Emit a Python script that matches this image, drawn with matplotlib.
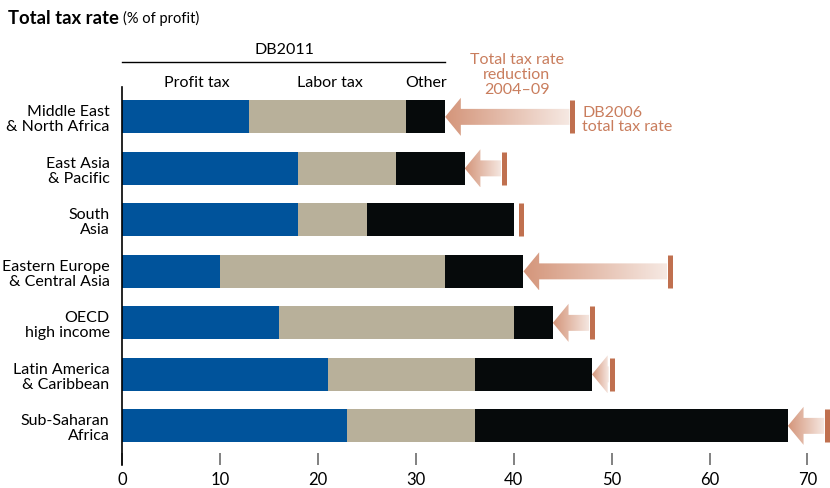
import numpy as np
import matplotlib
matplotlib.use("Agg")
import matplotlib.pyplot as plt
from matplotlib.patches import Polygon
from matplotlib.colors import to_rgba

plt.rcParams['font.family'] = ['Lato', 'DejaVu Sans']

# data (% of profit)
regions = ['Middle East\n& North Africa', 'East Asia\n& Pacific', 'South\nAsia',
           'Eastern Europe\n& Central Asia', 'OECD\nhigh income',
           'Latin America\n& Caribbean', 'Sub-Saharan\nAfrica']
profit_tax = [13, 18, 18, 10, 16, 21, 23]
labor_tax = [16, 10, 7, 23, 24, 15, 13]
other_tax = [4, 7, 15, 8, 4, 12, 32]
db2006_total = [46, 39, 40.7, 56, 48, 50, 72]
x_ticks = [0, 10, 20, 30, 40, 50, 60, 70]

blue = '#00539b'
tan = '#b8b09a'
black = '#060a0b'
rust = '#c0704f'
txt_rust = '#c97d5d'
head_col = '#d4957a'
tail_col = '#f6e9e3'
fs = 11.5

fig = plt.figure(figsize=(8.3, 4.89), dpi=100)
ax = fig.add_axes([122 / 830, 1 - 466 / 489, 1 - 122 / 830, (466 - 88) / 489])

y = np.arange(len(regions))
bh = 0.64
profit = np.array(profit_tax)
labor = np.array(labor_tax)
other = np.array(other_tax)
ax.barh(y, profit, height=bh, color=blue, zorder=2)
ax.barh(y, labor, left=profit, height=bh, color=tan, zorder=2)
ax.barh(y, other, left=profit + labor, height=bh, color=black, zorder=2)
totals = profit + labor + other

# gradient arrows from DB2006 rate down to DB2011 total
head_len = 1.6
head_h = 0.37
shaft_h = 0.155
c0 = np.array(to_rgba(head_col))
c1 = np.array(to_rgba(tail_col))
for yi, tot, old in zip(y, totals, db2006_total):
    tail = old - 0.3
    if tail - tot > head_len:
        hb = tot + head_len
        pts = [(tot, yi), (hb, yi - head_h), (hb, yi - shaft_h), (tail, yi - shaft_h),
               (tail, yi + shaft_h), (hb, yi + shaft_h), (hb, yi + head_h)]
        poly = Polygon(pts, closed=True, facecolor='none', edgecolor='none',
                       transform=ax.transData)
        ax.add_patch(poly)
        t = np.linspace(0, 1, 256)[None, :, None]
        grad = c0 * (1 - t) + c1 * t
        im = ax.imshow(grad, extent=(tot, tail, yi + head_h, yi - head_h),
                       aspect='auto', zorder=3, interpolation='bilinear')
        im.set_clip_path(poly)
    ax.vlines(old, yi - bh / 2, yi + bh / 2, color=rust, lw=3.6, zorder=4,
              clip_on=False)

ax.set_xlim(0, 72.3)
ax.set_ylim(6.76, -0.58)
ax.set_yticks(y)
ax.set_yticklabels(regions, fontsize=fs, linespacing=1.1)
ax.tick_params(axis='y', length=0, pad=9)
ax.set_xticks(x_ticks)
ax.set_xticklabels([str(v) for v in x_ticks], fontsize=12)
ax.tick_params(axis='x', direction='in', length=9, width=1.3, color='#777777', pad=4)
for s in ['top', 'right', 'bottom']:
    ax.spines[s].set_visible(False)
ax.spines['left'].set_linewidth(1.2)

# column headers
ax.text(16.6, -1.32, 'DB2011', ha='center', va='center', fontsize=fs, clip_on=False)
ax.plot([0, 33], [-1.07, -1.07], color='black', lw=1, clip_on=False)
ax.text(7.65, -0.68, 'Profit tax', ha='center', va='center', fontsize=fs)
ax.text(21.2, -0.68, 'Labor tax', ha='center', va='center', fontsize=fs)
ax.text(31.1, -0.68, 'Other', ha='center', va='center', fontsize=fs)

ax.text(40.3, -0.83, 'Total tax rate\nreduction\n2004\u201309', ha='center', va='center',
        fontsize=fs, color=txt_rust, linespacing=1.1)
ax.text(47.0, 0.04, 'DB2006\ntotal tax rate', ha='left', va='center',
        fontsize=fs, color=txt_rust, linespacing=1.05)

# title
t1 = fig.text(8 / 830, 1 - 18 / 489, 'Total tax rate', fontsize=13.3, fontweight='bold',
              va='center', ha='left')
fig.canvas.draw()
bb = t1.get_window_extent()
fig.text((bb.x1 + 4) / 830, 1 - 18 / 489, '(% of profit)', fontsize=10.5,
         va='center', ha='left')

fig.savefig('out.png', dpi=100)
